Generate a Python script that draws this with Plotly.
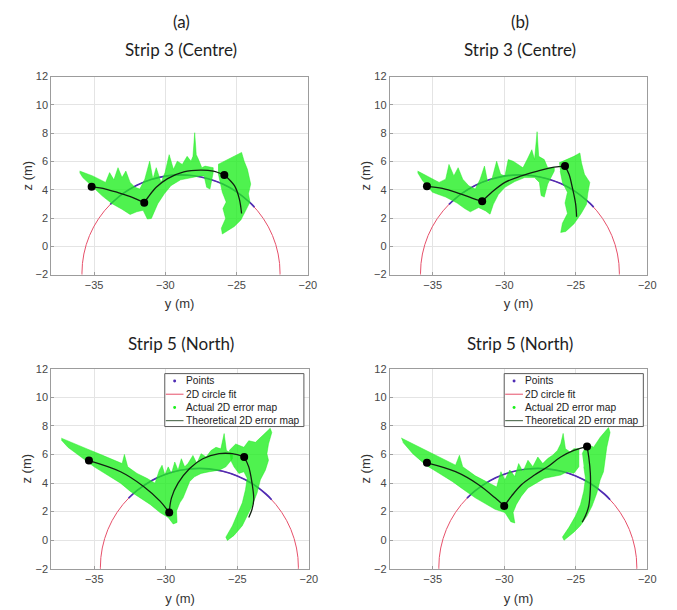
import plotly.graph_objects as go

# ---------------- data ----------------
X_RANGE = [-38, -20]
Z_RANGE = [-2, 12]
X_TICKS = [-35, -30, -25, -20]
Z_TICKS = [-2, 0, 2, 4, 6, 8, 10, 12]

# 2D circle fits: (centre y, centre z, radius)
CIRCLE_STRIP3 = (-28.9, -1.9, 6.95)
CIRCLE_STRIP5 = (-27.65, -1.9, 6.92)

# fitted points lying on the circle (visible arc)
POINTS_STRIP3_Y = [-33.86, -33.0, -32.0, -31.0, -30.0, -29.0, -28.0, -27.0, -26.0, -25.0, -24.0, -23.75]
POINTS_STRIP3_Z = [2.97, 3.71, 4.32, 4.72, 4.96, 5.05, 4.99, 4.78, 4.42, 3.85, 3.03, 2.77]
POINTS_STRIP5_Y = [-32.6, -32.0, -31.0, -30.0, -29.0, -28.0, -27.0, -26.0, -25.0, -24.0, -23.0, -22.6]
POINTS_STRIP5_Z = [2.94, 3.48, 4.16, 4.61, 4.89, 5.01, 4.99, 4.82, 4.49, 3.98, 3.23, 2.83]

# actual 2D error map (outline of each point cloud)
CLOUD_A_LEFT = [(-36.01, 5.32), (-35.10, 4.98), (-34.19, 4.52), (-33.91, 5.21), (-33.61, 4.70), (-33.32, 5.56),
                (-33.04, 4.86), (-32.77, 5.32), (-32.47, 4.52), (-32.13, 4.17), (-31.79, 4.05), (-31.44, 4.75),
                (-31.10, 6.02), (-30.87, 4.75), (-30.64, 5.56), (-30.30, 4.52), (-30.02, 5.21), (-29.73, 6.48),
                (-29.43, 5.44), (-29.16, 6.02), (-28.81, 5.79), (-28.47, 6.36), (-28.20, 6.02), (-28.06, 6.36),
                (-27.94, 8.03), (-27.83, 6.48), (-27.67, 6.13), (-27.44, 5.56), (-27.21, 5.67), (-26.64, 5.56),
                (-26.64, 5.21), (-26.87, 4.05), (-27.10, 4.17), (-27.28, 4.98), (-27.56, 4.98), (-28.24, 4.86),
                (-28.93, 4.70), (-29.61, 4.29), (-30.07, 3.71), (-30.53, 3.01), (-30.98, 1.97), (-31.26, 1.93),
                (-31.56, 2.55), (-32.01, 2.44), (-32.47, 2.25), (-33.04, 2.62), (-33.73, 3.01), (-34.41, 3.55),
                (-35.10, 4.17), (-35.79, 4.86), (-36.01, 5.21)]
CLOUD_A_RIGHT = [(-26.30, 5.79), (-25.84, 6.02), (-25.38, 6.25), (-24.93, 6.48), (-24.65, 6.64), (-24.47, 6.02),
                 (-24.24, 5.44), (-24.01, 4.40), (-24.17, 3.71), (-24.06, 3.13), (-24.36, 2.55), (-24.70, 1.86),
                 (-25.16, 1.40), (-25.73, 1.05), (-26.00, 0.87), (-26.07, 1.28), (-25.77, 1.97), (-25.96, 2.67),
                 (-25.73, 3.13), (-26.00, 3.82), (-26.14, 4.52), (-26.30, 5.21)]

CLOUD_B_LEFT = [(-36.05, 5.32), (-35.24, 4.86), (-34.55, 4.52), (-34.09, 4.75), (-33.86, 5.79), (-33.52, 4.98),
                (-33.22, 5.56), (-32.90, 4.75), (-32.48, 4.28), (-32.02, 4.05), (-31.68, 4.75), (-31.38, 5.67),
                (-31.15, 4.52), (-30.83, 4.86), (-30.53, 6.02), (-30.25, 5.09), (-29.95, 4.98), (-29.72, 6.13),
                (-29.38, 6.02), (-29.03, 5.79), (-28.69, 5.55), (-28.34, 6.25), (-28.07, 6.83), (-27.88, 6.13),
                (-27.70, 8.10), (-27.59, 6.36), (-27.20, 6.13), (-26.96, 5.55), (-26.50, 5.55), (-26.50, 5.32),
                (-26.96, 4.40), (-27.20, 3.48), (-27.42, 3.59), (-27.54, 4.52), (-27.88, 4.86), (-28.57, 4.86),
                (-29.26, 4.58), (-29.95, 4.17), (-30.41, 3.66), (-30.76, 2.97), (-30.99, 2.27), (-31.29, 2.50),
                (-31.79, 2.74), (-32.37, 2.44), (-32.76, 2.67), (-33.29, 3.06), (-34.09, 3.48), (-35.01, 3.82),
                (-35.70, 4.63), (-36.05, 5.21)]
CLOUD_B_RIGHT = [(-26.16, 5.90), (-25.58, 6.13), (-25.13, 6.36), (-24.71, 6.60), (-24.60, 5.90), (-24.39, 5.09),
                 (-24.02, 4.52), (-24.16, 3.71), (-24.25, 2.97), (-24.62, 2.32), (-25.13, 1.58), (-25.70, 1.05),
                 (-26.05, 0.98), (-25.93, 1.63), (-25.58, 2.32), (-25.75, 3.06), (-25.58, 3.82), (-25.93, 4.52),
                 (-26.09, 5.32)]

CLOUD_C_LEFT = [(-37.30, 7.14), (-36.38, 6.78), (-35.46, 6.37), (-34.54, 5.99), (-33.62, 5.59), (-33.05, 5.36),
                (-32.89, 6.00), (-32.66, 5.13), (-32.01, 4.67), (-31.32, 4.33), (-30.75, 3.99), (-30.45, 4.90),
                (-30.26, 5.24), (-30.06, 4.56), (-29.83, 5.13), (-29.60, 4.67), (-29.37, 5.47), (-29.14, 4.90),
                (-28.91, 5.70), (-28.68, 5.13), (-28.45, 5.36), (-28.10, 5.93), (-27.83, 5.36), (-27.53, 6.05),
                (-27.18, 5.82), (-26.84, 6.27), (-26.49, 6.50), (-26.15, 6.39), (-25.92, 7.46), (-25.76, 6.27),
                (-25.34, 6.05), (-25.34, 5.70), (-25.80, 5.13), (-26.26, 4.90), (-26.95, 4.79), (-27.53, 4.67),
                (-27.99, 4.44), (-28.33, 4.10), (-28.56, 3.53), (-28.79, 2.96), (-29.02, 2.61), (-29.25, 2.04),
                (-29.21, 1.24), (-29.48, 1.13), (-29.83, 1.59), (-30.40, 1.93), (-31.09, 2.50), (-31.78, 2.96),
                (-32.47, 3.41), (-33.16, 3.99), (-34.08, 4.56), (-35.00, 5.13), (-35.92, 5.82), (-36.84, 6.50),
                (-37.30, 7.01)]
CLOUD_C_RIGHT = [(-25.57, 6.27), (-25.11, 6.73), (-24.54, 6.50), (-24.20, 6.96), (-23.73, 6.85), (-23.27, 7.30),
                 (-22.70, 7.83), (-22.59, 7.53), (-22.82, 6.73), (-22.93, 6.05), (-22.82, 5.59), (-23.04, 4.90),
                 (-23.39, 4.22), (-23.62, 3.30), (-23.97, 2.39), (-24.31, 1.70), (-24.65, 1.01), (-25.23, 0.33),
                 (-25.69, -0.02), (-25.80, 0.21), (-25.34, 1.01), (-25.00, 1.81), (-24.65, 2.61), (-24.43, 3.53),
                 (-24.31, 4.33), (-24.54, 4.79), (-24.89, 4.67), (-25.23, 5.13), (-25.46, 5.59)]

CLOUD_D_LEFT = [(-37.20, 7.15), (-36.16, 6.62), (-35.24, 6.17), (-34.32, 5.71), (-33.40, 5.25), (-33.13, 5.94),
                (-32.90, 5.14), (-32.02, 4.50), (-31.10, 3.99), (-30.53, 3.72), (-30.23, 4.79), (-29.95, 4.22),
                (-29.61, 4.91), (-29.26, 4.45), (-28.99, 5.36), (-28.69, 4.79), (-28.34, 5.59), (-28.00, 5.14),
                (-27.65, 5.82), (-27.31, 5.36), (-26.96, 5.71), (-26.62, 5.94), (-26.28, 6.28), (-26.05, 6.74),
                (-25.88, 7.47), (-25.72, 6.40), (-25.40, 6.17), (-25.13, 6.40), (-24.78, 6.40), (-24.78, 5.14),
                (-25.13, 4.68), (-25.59, 4.79), (-26.05, 4.56), (-26.62, 4.45), (-27.19, 4.33), (-27.77, 3.99),
                (-28.34, 3.65), (-28.80, 3.08), (-29.15, 2.50), (-29.38, 1.93), (-29.26, 1.20), (-29.54, 1.29),
                (-29.95, 1.93), (-30.64, 2.16), (-31.33, 2.57), (-32.02, 2.96), (-32.83, 3.53), (-33.63, 4.11),
                (-34.55, 4.68), (-35.47, 5.25), (-36.39, 6.05), (-37.08, 6.85)]
CLOUD_D_RIGHT = [(-24.55, 6.05), (-24.21, 6.74), (-23.75, 6.51), (-23.29, 7.20), (-22.71, 7.88), (-22.60, 7.54),
                 (-22.83, 6.51), (-22.94, 5.59), (-23.06, 4.79), (-23.29, 4.22), (-23.52, 3.31), (-23.86, 2.39),
                 (-24.21, 1.70), (-24.67, 1.02), (-25.13, 0.56), (-25.82, -0.01), (-25.93, 0.22), (-25.47, 0.90),
                 (-25.01, 1.70), (-24.67, 2.50), (-24.44, 3.42), (-24.32, 4.33), (-24.44, 5.14)]

# theoretical 2D error map (None separates the three arcs)
THEO_A_Y = [-35.17, -34.19, -33.27, -32.36, -31.48, None, -31.48, -31.21, -30.64, -29.84, -28.70, -27.56, -26.64, -25.86,
            None, -25.86, -25.15, -24.81, -24.65]
THEO_A_Z = [4.22, 4.05, 3.78, 3.48, 3.08, None, 3.08, 3.47, 4.17, 4.79, 5.26, 5.39, 5.32, 5.05,
            None, 5.05, 4.29, 3.36, 2.32]
THEO_B_Y = [-35.40, -34.32, -33.17, -32.25, -31.54, None, -31.54, -30.87, -29.95, -28.80, -27.66, -26.51, -25.75,
            None, -25.75, -25.47, -25.24, -25.01, -24.94]
THEO_B_Z = [4.24, 4.10, 3.75, 3.41, 3.18, None, 3.18, 3.82, 4.52, 4.98, 5.32, 5.60, 5.67,
            None, 5.67, 5.09, 4.17, 3.01, 2.09]
THEO_C_Y = [-35.37, -33.16, -31.55, -30.40, -29.76, None, -29.76, -29.60, -29.14, -28.33, -27.41, -26.27, -25.35, -24.52,
            None, -24.52, -24.20, -23.97, -23.85, -23.97, -24.20]
THEO_C_Z = [5.57, 4.79, 3.76, 2.73, 1.93, None, 1.93, 2.96, 3.99, 5.02, 5.70, 6.05, 6.05, 5.82,
            None, 5.82, 5.13, 3.99, 2.84, 2.16, 1.58]
THEO_D_Y = [-35.40, -33.40, -31.79, -30.64, -30.00, None, -30.00, -29.49, -28.80, -27.88, -26.96, -26.05, -25.13, -24.21,
            None, -24.21, -24.09, -23.98, -23.98, -24.09, -24.32, -24.55]
THEO_D_Z = [5.41, 4.79, 3.88, 2.96, 2.39, None, 2.39, 3.08, 3.88, 4.56, 5.14, 5.82, 6.28, 6.55,
            None, 6.55, 5.82, 4.68, 3.54, 2.39, 1.70, 1.25]

# large black points
DOTS_A_Y = [-35.17, -31.48, -25.86]
DOTS_A_Z = [4.22, 3.08, 5.05]
DOTS_B_Y = [-35.40, -31.54, -25.75]
DOTS_B_Z = [4.24, 3.18, 5.67]
DOTS_C_Y = [-35.37, -29.76, -24.52]
DOTS_C_Z = [5.57, 1.93, 5.82]
DOTS_D_Y = [-35.40, -30.00, -24.21]
DOTS_D_Z = [5.41, 2.39, 6.55]

PANEL_TAGS = ["(a)", "(b)"]
STRIP_TITLES = ["Strip 3 (Centre)", "Strip 3 (Centre)", "Strip 5 (North)", "Strip 5 (North)"]
LEGEND_NAMES = ["Points", "2D circle fit", "Actual 2D error map", "Theoretical 2D error map"]

# ---------------- styling / layout ----------------
W, H = 677, 610
RED = "#e6506a"
BLUE = "#4f2cb4"
GREEN = "rgba(30,238,30,0.78)"
GREEN_SOLID = "#19f019"
DARK = "#112211"
FONT = "Liberation Sans, Arial, sans-serif"
TITLE_FONT = "Lato, Open Sans, sans-serif"


def px_x(px):
    return px / W


def px_y(py):
    return 1 - py / H


panels = [
    dict(dom=(52, 312, 72, 274), circle=CIRCLE_STRIP3, pts=(POINTS_STRIP3_Y, POINTS_STRIP3_Z),
         clouds=[CLOUD_A_LEFT, CLOUD_A_RIGHT], theo=(THEO_A_Y, THEO_A_Z), dots=(DOTS_A_Y, DOTS_A_Z)),
    dict(dom=(395, 656, 72, 274), circle=CIRCLE_STRIP3, pts=(POINTS_STRIP3_Y, POINTS_STRIP3_Z),
         clouds=[CLOUD_B_LEFT, CLOUD_B_RIGHT], theo=(THEO_B_Y, THEO_B_Z), dots=(DOTS_B_Y, DOTS_B_Z)),
    dict(dom=(52, 313, 370, 574), circle=CIRCLE_STRIP5, pts=(POINTS_STRIP5_Y, POINTS_STRIP5_Z),
         clouds=[CLOUD_C_LEFT, CLOUD_C_RIGHT], theo=(THEO_C_Y, THEO_C_Z), dots=(DOTS_C_Y, DOTS_C_Z)),
    dict(dom=(395, 656, 370, 574), circle=CIRCLE_STRIP5, pts=(POINTS_STRIP5_Y, POINTS_STRIP5_Z),
         clouds=[CLOUD_D_LEFT, CLOUD_D_RIGHT], theo=(THEO_D_Y, THEO_D_Z), dots=(DOTS_D_Y, DOTS_D_Z)),
]

fig = go.Figure()
layout = dict(width=W, height=H, margin=dict(l=0, r=0, t=0, b=0), paper_bgcolor="white",
              plot_bgcolor="white", showlegend=False, shapes=[], annotations=[])

for i, p in enumerate(panels):
    n = "" if i == 0 else str(i + 1)
    xa, ya = "x" + n, "y" + n
    x0, x1, y0, y1 = p["dom"]
    axis_common = dict(showgrid=True, gridcolor="#e4e4e4", gridwidth=1, zeroline=False, showline=True,
                       linecolor="#9c9c9c", linewidth=1, mirror=True, ticks="inside", ticklen=3,
                       tickcolor="#9c9c9c", tickfont=dict(family=FONT, size=11, color="#474747"))
    layout["xaxis" + n] = dict(axis_common, domain=[px_x(x0), px_x(x1)], range=X_RANGE, tickvals=X_TICKS,
                               anchor=ya,
                               title=dict(text="y (m)", standoff=9, font=dict(family=FONT, size=13, color="#333")))
    layout["yaxis" + n] = dict(axis_common, domain=[px_y(y1), px_y(y0)], range=Z_RANGE, tickvals=Z_TICKS,
                               anchor=xa,
                               title=dict(text="z (m)", standoff=0, font=dict(family=FONT, size=13, color="#333")))

    cy, cz, r = p["circle"]
    layout["shapes"].append(dict(type="circle", xref=xa, yref=ya, x0=cy - r, x1=cy + r, y0=cz - r, y1=cz + r,
                                 line=dict(color=RED, width=1), layer="between"))

    fig.add_trace(go.Scatter(x=p["pts"][0], y=p["pts"][1], xaxis=xa, yaxis=ya, mode="lines",
                             line=dict(color=BLUE, width=1.7, shape="spline"), name=LEGEND_NAMES[0],
                             hoverinfo="skip"))
    for cloud in p["clouds"]:
        fig.add_trace(go.Scatter(x=[c[0] for c in cloud], y=[c[1] for c in cloud], xaxis=xa, yaxis=ya,
                                 mode="lines", fill="toself", fillcolor=GREEN,
                                 line=dict(color=GREEN, width=0.6), name=LEGEND_NAMES[2], hoverinfo="skip"))
    fig.add_trace(go.Scatter(x=p["theo"][0], y=p["theo"][1], xaxis=xa, yaxis=ya, mode="lines",
                             line=dict(color=DARK, width=1.3, shape="spline"), name=LEGEND_NAMES[3]))
    fig.add_trace(go.Scatter(x=p["dots"][0], y=p["dots"][1], xaxis=xa, yaxis=ya, mode="markers",
                             marker=dict(color="black", size=8), name="Points"))

    # strip title
    cx = (x0 + x1) / 2
    title_y = 44 if i < 2 else 344
    layout["annotations"].append(dict(text=STRIP_TITLES[i], x=px_x(cx + 1), y=px_y(title_y), xref="paper",
                                      yref="paper", showarrow=False, xanchor="center", yanchor="middle",
                                      font=dict(family=TITLE_FONT, size=17, color="#1e1e1e")))
    if i < 2:
        layout["annotations"].append(dict(text=PANEL_TAGS[i], x=px_x(cx + 2), y=px_y(16), xref="paper",
                                          yref="paper", showarrow=False, xanchor="center", yanchor="middle",
                                          font=dict(family=TITLE_FONT, size=17, color="#1e1e1e")))


def add_legend(left, top):
    w, h = 141, 54
    layout["shapes"].append(dict(type="rect", xref="paper", yref="paper", x0=px_x(left), x1=px_x(left + w),
                                 y0=px_y(top + h), y1=px_y(top), line=dict(color="#5a5a5a", width=1),
                                 fillcolor="white", layer="above"))
    rows = [top + 7.5, top + 21, top + 34.5, top + 48]
    sym_cx = left + 10
    layout["shapes"].append(dict(type="circle", xref="paper", yref="paper", x0=px_x(sym_cx - 1.5),
                                 x1=px_x(sym_cx + 1.5), y0=px_y(rows[0] + 1.5), y1=px_y(rows[0] - 1.5),
                                 fillcolor=BLUE, line=dict(width=0), layer="above"))
    layout["shapes"].append(dict(type="line", xref="paper", yref="paper", x0=px_x(left + 1), x1=px_x(left + 19),
                                 y0=px_y(rows[1]), y1=px_y(rows[1]), line=dict(color=RED, width=1),
                                 layer="above"))
    layout["shapes"].append(dict(type="circle", xref="paper", yref="paper", x0=px_x(sym_cx - 1.5),
                                 x1=px_x(sym_cx + 1.5), y0=px_y(rows[2] + 1.5), y1=px_y(rows[2] - 1.5),
                                 fillcolor=GREEN_SOLID, line=dict(width=0), layer="above"))
    layout["shapes"].append(dict(type="line", xref="paper", yref="paper", x0=px_x(left + 1), x1=px_x(left + 19),
                                 y0=px_y(rows[3]), y1=px_y(rows[3]), line=dict(color="#3c5a3c", width=1),
                                 layer="above"))
    for name, ry in zip(LEGEND_NAMES, rows):
        layout["annotations"].append(dict(text=name, x=px_x(left + 19), y=px_y(ry), xref="paper", yref="paper",
                                          showarrow=False, xanchor="left", yanchor="middle",
                                          font=dict(family=FONT, size=10.2, color="#222")))


add_legend(167, 375)
add_legend(511, 375)

fig.update_layout(**layout)
fig.write_html("out.html", config={"displayModeBar": False},
               post_script="document.body.style.margin='0px';")
